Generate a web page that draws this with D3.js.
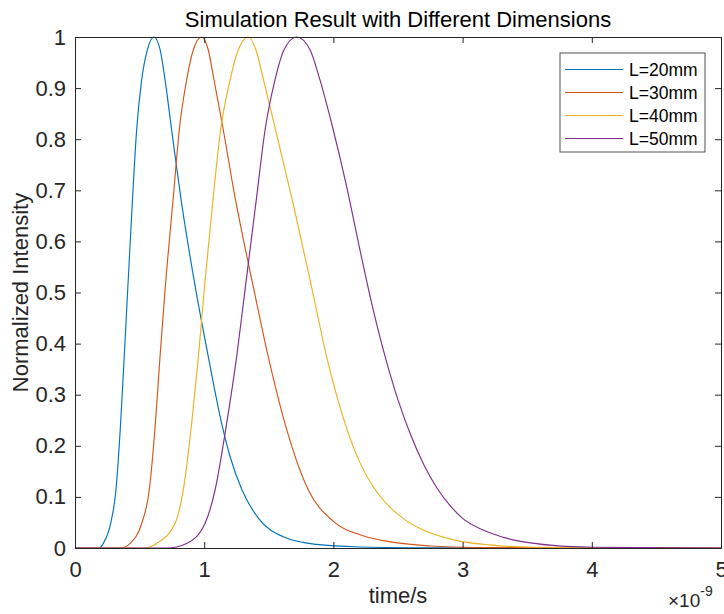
<!DOCTYPE html>
<html>
<head>
<meta charset="utf-8">
<script src="https://cdn.jsdelivr.net/npm/d3@7"></script>
<style>
  html, body { margin: 0; padding: 0; background: #fff; }
  svg { display: block; font-family: "Liberation Sans", Arial, Helvetica, sans-serif; }
</style>
</head>
<body>
<svg id="chart" width="724" height="614"></svg>
<script>
// ---- data (time in units of 1e-9 s) ----
const seriesNames = ["L=20mm", "L=30mm", "L=40mm", "L=50mm"];
const seriesColors = ["#0072BD", "#D95319", "#EDB120", "#7E2F8E"];

const t20 = [0, 0.188, 0.219, 0.276, 0.317, 0.353, 0.38, 0.41, 0.446, 0.477, 0.516, 0.56, 0.611, 0.66, 0.697, 0.748, 0.818, 0.935, 1.032, 1.135, 1.2, 1.293, 1.42, 1.612, 1.87, 2.2, 2.6, 5];
const v20 = [0, 0, 0.009, 0.048, 0.1135, 0.244, 0.37, 0.515, 0.687, 0.818, 0.916, 0.975, 1, 0.974, 0.916, 0.818, 0.687, 0.505, 0.374, 0.244, 0.179, 0.1135, 0.058, 0.022, 0.007, 0.002, 0.0005, 0];

const t30 = [0, 0.361, 0.426, 0.516, 0.575, 0.622, 0.658, 0.697, 0.761, 0.807, 0.864, 0.916, 0.98, 1.03, 1.076, 1.148, 1.238, 1.32, 1.385, 1.496, 1.625, 1.806, 2.0, 2.23, 2.44, 2.75, 3.1, 5];
const v30 = [0, 0, 0.009, 0.048, 0.1135, 0.244, 0.374, 0.505, 0.687, 0.818, 0.916, 0.975, 1, 0.976, 0.916, 0.818, 0.687, 0.583, 0.505, 0.374, 0.244, 0.1135, 0.052, 0.024, 0.012, 0.004, 0.001, 0];

const t40 = [0, 0.529, 0.632, 0.774, 0.838, 0.903, 0.955, 1.0, 1.07, 1.127, 1.2, 1.264, 1.342, 1.40, 1.46, 1.56, 1.69, 1.836, 1.948, 2.09, 2.2, 2.335, 2.45, 2.55, 2.67, 2.93, 3.21, 3.55, 5];
const v40 = [0, 0, 0.009, 0.048, 0.1135, 0.244, 0.374, 0.505, 0.687, 0.818, 0.916, 0.975, 1, 0.975, 0.915, 0.81, 0.672, 0.505, 0.374, 0.244, 0.17, 0.11, 0.077, 0.056, 0.038, 0.016, 0.006, 0.0015, 0];

const t50 = [0, 0.71, 0.864, 1.006, 1.084, 1.174, 1.251, 1.316, 1.406, 1.471, 1.548, 1.618, 1.716, 1.819, 1.896, 1.999, 2.1, 2.2, 2.3, 2.4, 2.5, 2.6, 2.7, 2.8, 2.9, 3.0, 3.15, 3.3, 3.45, 3.7, 4.0, 5];
const v50 = [0, 0, 0.009, 0.048, 0.1135, 0.244, 0.374, 0.505, 0.687, 0.818, 0.916, 0.975, 1, 0.975, 0.916, 0.818, 0.71, 0.59, 0.475, 0.375, 0.29, 0.22, 0.163, 0.118, 0.084, 0.058, 0.036, 0.022, 0.013, 0.005, 0.0015, 0];

const xTicks = [0, 1, 2, 3, 4, 5];
const yTicks = [0, 0.1, 0.2, 0.3, 0.4, 0.5, 0.6, 0.7, 0.8, 0.9, 1];
const yTickLabels = ["0", "0.1", "0.2", "0.3", "0.4", "0.5", "0.6", "0.7", "0.8", "0.9", "1"];

const titleText = "Simulation Result with Different Dimensions";
const xLabel = "time/s";
const yLabel = "Normalized Intensity";

// ---- layout ----
const pL = 75, pR = 721, pT = 37, pB = 548;
const axisColor = "#262626";
const svg = d3.select("#chart");

const x = d3.scaleLinear().domain([0, 5]).range([pL, pR]);
const y = d3.scaleLinear().domain([0, 1]).range([pB, pT]);

const series = [
  { name: seriesNames[0], color: seriesColors[0], t: t20, v: v20 },
  { name: seriesNames[1], color: seriesColors[1], t: t30, v: v30 },
  { name: seriesNames[2], color: seriesColors[2], t: t40, v: v40 },
  { name: seriesNames[3], color: seriesColors[3], t: t50, v: v50 }
];

svg.append("rect")
  .attr("x", pL).attr("y", pT)
  .attr("width", pR - pL).attr("height", pB - pT)
  .attr("fill", "#fff");

const line = d3.line()
  .x(d => x(d[0]))
  .y(d => y(d[1]))
  .curve(d3.curveMonotoneX);

series.forEach(s => {
  const pts = s.t.map((tt, i) => [tt, s.v[i]]);
  svg.append("path")
    .datum(pts)
    .attr("d", line)
    .attr("fill", "none")
    .attr("stroke", s.color)
    .attr("stroke-width", 1.15);
});

const tickLen = 6;
const fs = 22;

const xAxisB = d3.axisBottom(x).tickValues(xTicks).tickSizeInner(-tickLen).tickSizeOuter(0).tickPadding(13).tickFormat(d3.format("d"));
const xAxisT = d3.axisTop(x).tickValues(xTicks).tickSizeInner(-tickLen).tickSizeOuter(0).tickFormat("");
const yAxisL = d3.axisLeft(y).tickValues(yTicks).tickSizeInner(-tickLen).tickSizeOuter(0).tickPadding(9).tickFormat((d, i) => yTickLabels[i]);
const yAxisR = d3.axisRight(y).tickValues(yTicks).tickSizeInner(-tickLen).tickSizeOuter(0).tickFormat("");

function styleAxis(g) {
  g.selectAll("path").attr("stroke", axisColor).attr("stroke-width", 1);
  g.selectAll("line").attr("stroke", axisColor).attr("stroke-width", 1);
  g.selectAll("text").attr("fill", "#262626").style("font-size", fs + "px").style("font-family", "\"Liberation Sans\", Arial, sans-serif");
}

svg.append("g").attr("transform", `translate(0,${pB})`).call(xAxisB).call(styleAxis);
svg.append("g").attr("transform", `translate(0,${pT})`).call(xAxisT).call(styleAxis);
svg.append("g").attr("transform", `translate(${pL},0)`).call(yAxisL).call(styleAxis);
svg.append("g").attr("transform", `translate(${pR},0)`).call(yAxisR).call(styleAxis);

svg.append("text")
  .attr("x", (pL + pR) / 2).attr("y", 27)
  .attr("text-anchor", "middle")
  .attr("fill", "#000")
  .style("font-size", fs + "px")
  .text(titleText);

svg.append("text")
  .attr("x", (pL + pR) / 2).attr("y", 603)
  .attr("text-anchor", "middle")
  .attr("fill", "#262626")
  .style("font-size", fs + "px")
  .text(xLabel);

svg.append("text")
  .attr("transform", `translate(28,${(pT + pB) / 2}) rotate(-90)`)
  .attr("text-anchor", "middle")
  .attr("fill", "#262626")
  .style("font-size", fs + "px")
  .text(yLabel);

const expT = svg.append("text")
  .attr("x", 668).attr("y", 607)
  .attr("fill", "#262626")
  .style("font-size", "19px");
expT.append("tspan").text("\u00d710");
expT.append("tspan").attr("dy", -11).style("font-size", "14px").text("-9");

const lg = svg.append("g");
lg.append("rect")
  .attr("x", 560).attr("y", 53)
  .attr("width", 145).attr("height", 99)
  .attr("fill", "#fff")
  .attr("stroke", axisColor)
  .attr("stroke-width", 0.8);
const rowY = d3.scalePoint().domain(seriesNames).range([69.5, 138.5]);
series.forEach(s => {
  const yy = rowY(s.name);
  lg.append("line")
    .attr("x1", 565).attr("x2", 623)
    .attr("y1", yy).attr("y2", yy)
    .attr("stroke", s.color).attr("stroke-width", 1.15);
  lg.append("text")
    .attr("x", 629).attr("y", yy)
    .attr("dy", "0.36em")
    .attr("fill", "#000")
    .style("font-size", "17.5px")
    .text(s.name);
});
</script>
</body>
</html>
